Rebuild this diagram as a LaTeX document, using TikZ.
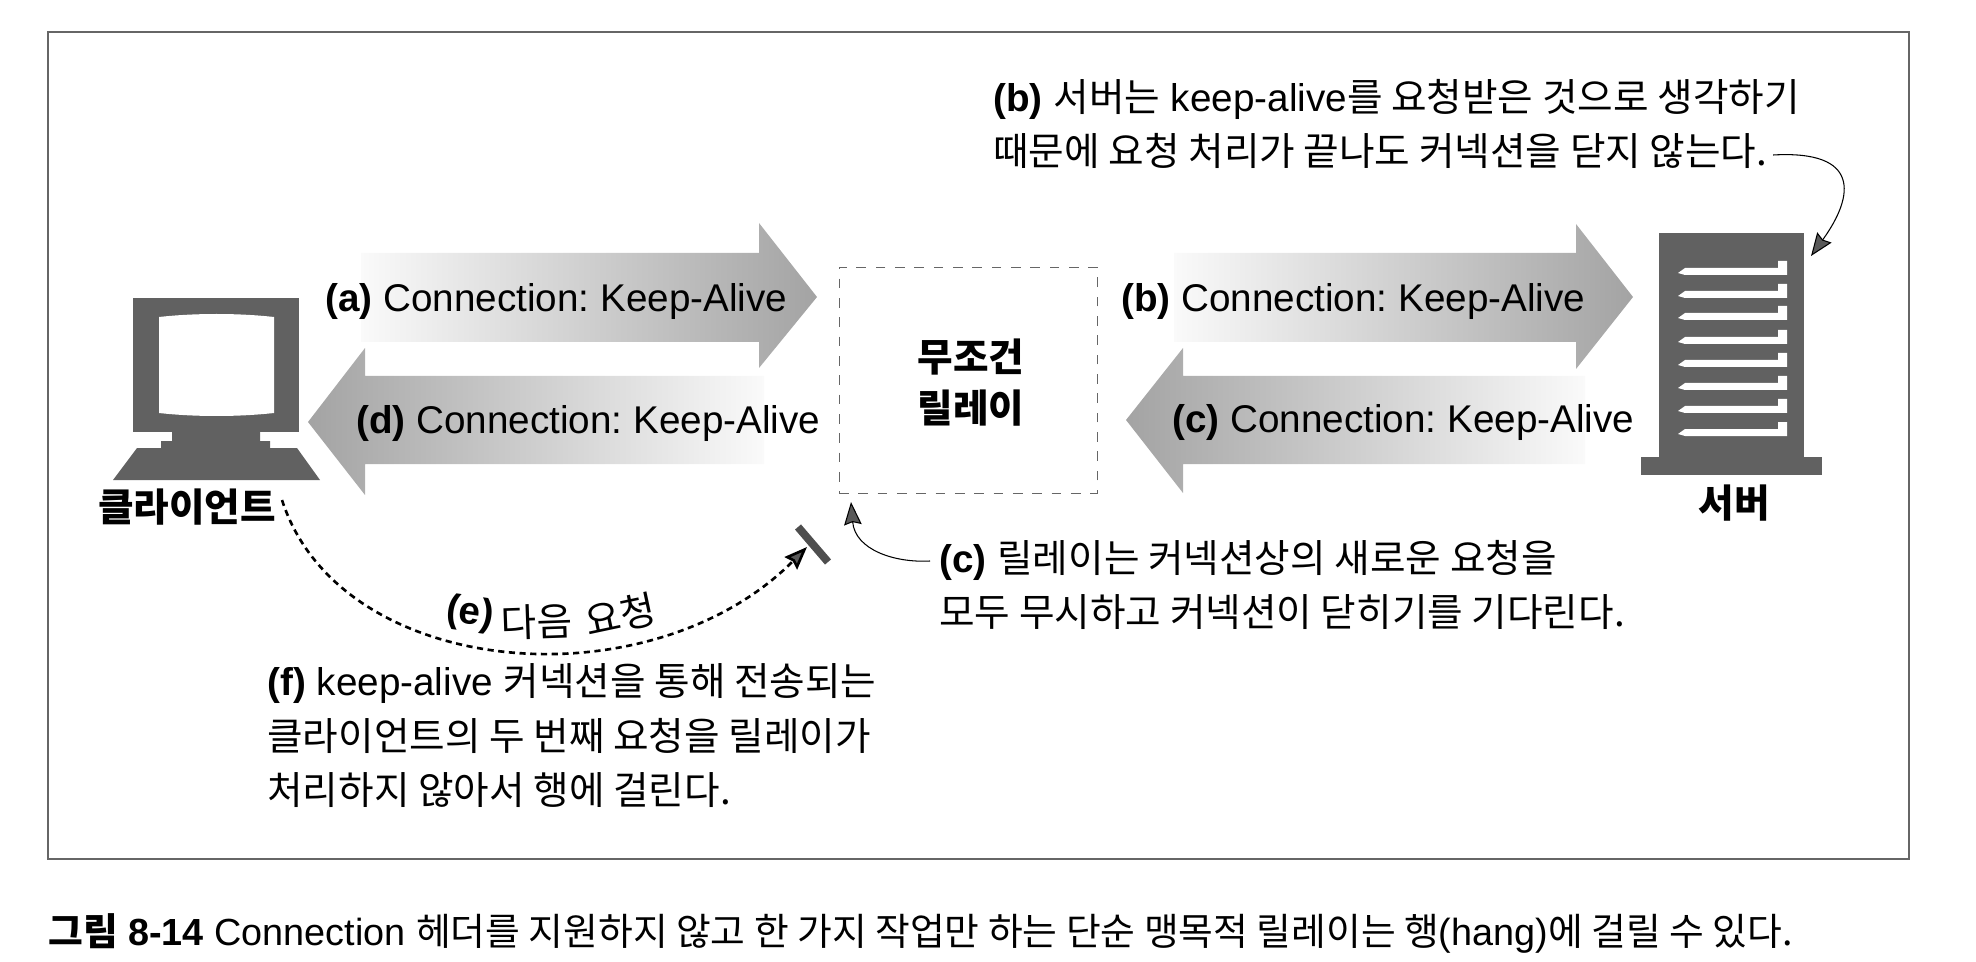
\documentclass[tikz,border=0pt]{standalone}
\usepackage{fontspec}
\setmainfont{Liberation Sans}
\newfontfamily\kofont{Noto Sans CJK KR}
\newcommand{\ko}[1]{{\kofont #1}}
\frenchspacing
\usetikzlibrary{arrows.meta,positioning,calc}
\definecolor{shapegray}{gray}{0.38}
\tikzset{
  label/.style={font=\fontsize{22}{31}\selectfont, inner sep=0pt, anchor=west, align=left},
  heading/.style={font=\fontsize{22}{29}\selectfont\bfseries, inner sep=0pt, align=center},
  fatright/.style={left color=gray!4, right color=gray!72},
  fatleft/.style={left color=gray!72, right color=gray!4},
  solidshape/.style={fill=shapegray},
  callout/.style={draw=black, line width=0.6pt, -{Stealth[length=13pt,width=10pt,inset=1.5pt,fill=gray!70!black]}},
  nextreq/.style={draw=black, line width=1.5pt, dash pattern=on 3.5pt off 2.6pt, -{Stealth[length=13pt,width=10pt,inset=1.5pt,fill=gray!70!black]}}
}
\begin{document}
\begin{tikzpicture}[x=0.02cm,y=-0.02cm]
  \useasboundingbox (0,0) rectangle (1976,962);
  % frame
  \draw[line width=0.7pt, gray!80!black] (48,32) rectangle (1909,859);
  % fat arrows
  \shade[fatright] (361,253) -- (759,253) -- (759,223) -- (817,297) -- (759,368) -- (759,342) -- (361,342) -- cycle;
  \shade[fatleft] (764,376) -- (365,376) -- (365,348) -- (308,422) -- (365,495) -- (365,464) -- (764,464) -- cycle;
  \shade[fatright] (1174,253) -- (1576,253) -- (1576,224) -- (1633,297) -- (1576,369) -- (1576,342) -- (1174,342) -- cycle;
  \shade[fatleft] (1585,376) -- (1183,376) -- (1183,348) -- (1126,420) -- (1183,493) -- (1183,464) -- (1585,464) -- cycle;
  \node[label] (reqa) at (325,302) {\textbf{(a)} Connection: Keep-Alive};
  \node[label] (resd) at (356,424) {\textbf{(d)} Connection: Keep-Alive};
  \node[label] (reqb) at (1121,302) {\textbf{(b)} Connection: Keep-Alive};
  \node[label] (resc) at (1172,423) {\textbf{(c)} Connection: Keep-Alive};
  % client
  \fill[solidshape] (133,298) rectangle (299,432);
  \fill[white] (159,317) .. controls (195,313) and (238,313) .. (274,317) -- (274,413) .. controls (238,417) and (195,417) .. (159,413) -- cycle;
  \fill[solidshape] (172,432) rectangle (260,441) (161,441) rectangle (270,448);
  \fill[solidshape] (137,448) -- (297,448) -- (320,480) -- (113,480) -- cycle;
  \node[heading] (client) at (187,507) {\ko{클라이언트}};
  % relay
  \node[draw=gray!80!black, dash pattern=on 5.5pt off 5.5pt, line width=0.5pt, minimum width=258*0.02cm, minimum height=226*0.02cm, inner sep=0pt] (relay) at (968,380) {};
  \node[heading] (relaytext) at (971,383) {\ko{무조건}\\\ko{릴레이}};
  % server
  \fill[solidshape] (1659,233) rectangle (1804,457);
  \fill[solidshape] (1641,457) rectangle (1822,475);
  \foreach \y in {268,291,313,337,360,383,406,429}
    \fill[white] (1678,\y+5) -- (1685,\y) -- (1778,\y) -- (1778,\y-7) -- (1787,\y-7) -- (1787,\y+7) -- (1685,\y+7) -- cycle;
  \node[heading] (server) at (1734,503) {\ko{서버}};
  % notes
  \node[label] (noteb) at (993,124) {\textbf{(b)} \ko{서버는} keep-alive\ko{를 요청받은 것으로 생각하기}\\\ko{때문에 요청 처리가 끝나도 커넥션을 닫지 않는다.}};
  \node[label] (notec) at (939,585) {\textbf{(c)} \ko{릴레이는 커넥션상의 새로운 요청을}\\\ko{모두 무시하고 커넥션이 닫히기를 기다린다.}};
  \node[label] (notef) at (267,736) {\textbf{(f)} keep-alive \ko{커넥션을 통해 전송되는}\\\ko{클라이언트의 두 번째 요청을 릴레이가}\\\ko{처리하지 않아서 행에 걸린다.}};
  % next request label
  \node[label, anchor=center, rotate=-8] (nexte) at (470,614) {\textbf{(e)}};
  \node[label, anchor=center, rotate=2] (nextd) at (537,622) {\ko{다음}};
  \node[label, anchor=center, rotate=12] (nexty) at (620,615) {\ko{요청}};
  % connectors
  \coordinate (bstart) at (1773,155);
  \coordinate (btip) at (1811,256);
  \coordinate (cstart) at (930,561);
  \coordinate (ctip) at (851,502);
  \coordinate (estart) at (282,500);
  \coordinate (etip) at (807,547);
  \coordinate (stopa) at (798,527);
  \coordinate (stopb) at (828,562);
  \draw[callout] (bstart) .. controls (1860,150) and (1855,195) .. (btip);
  \draw[callout] (cstart) .. controls (895,563) and (855,550) .. (ctip);
  \draw[nextreq] (estart) .. controls (340,680) and (650,705) .. (etip);
  \draw[line width=4.5pt, shapegray!80!black] (stopa) -- (stopb);
  % caption
  \node[label, font=\fontsize{21.5}{31}\selectfont] (caption) at (48,933) {\textbf{\ko{그림} 8-14} Connection \ko{헤더를 지원하지 않고 한 가지 작업만 하는 단순 맹목적 릴레이는 행}(hang)\ko{에 걸릴 수 있다.}};
\end{tikzpicture}
\end{document}
